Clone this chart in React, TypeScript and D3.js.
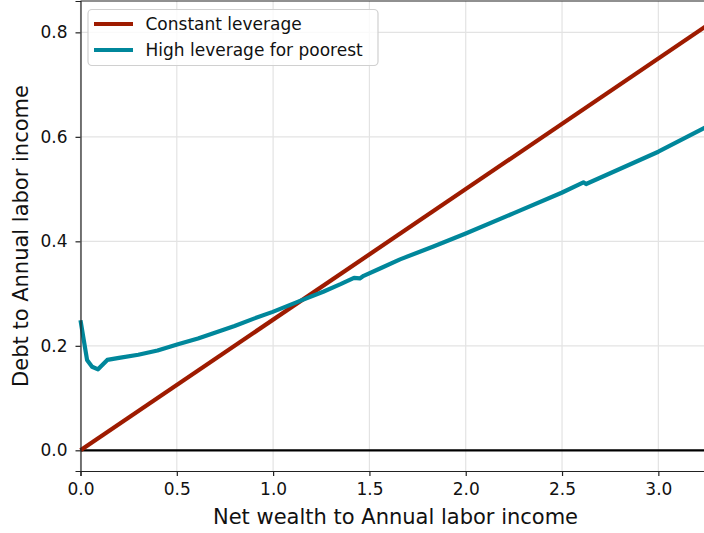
import React, { useEffect, useRef } from "react";
import * as d3 from "d3";

// Constant leverage: debt = 0.25 * net wealth
const constX = [0, 3.25];
const constY = [0, 0.8125];

// High leverage for poorest
const highX = [0, 0.034, 0.06, 0.091, 0.139, 0.2, 0.3, 0.4, 0.506, 0.61, 0.69, 0.8, 0.9, 0.998, 1.14, 1.26, 1.35, 1.42, 1.45, 1.47, 1.555, 1.659, 1.832, 2.0, 2.25, 2.498, 2.611, 2.625, 3.0, 3.25];
const highY = [0.249, 0.173, 0.16, 0.155, 0.173, 0.177, 0.183, 0.191, 0.203, 0.214, 0.224, 0.238, 0.252, 0.265, 0.286, 0.3035, 0.318, 0.330, 0.329, 0.334, 0.348, 0.3655, 0.39, 0.415, 0.454, 0.493, 0.513, 0.5097, 0.5715, 0.619];

const xTicks = [0, 0.5, 1, 1.5, 2, 2.5, 3];
const yTicks = [0, 0.2, 0.4, 0.6, 0.8];

const seriesNames = ["Constant leverage", "High leverage for poorest"];
const seriesColors = ["#9e1b00", "#00879b"];

const width = 704;
const height = 533;
const font = "DejaVu Sans";

export default function App() {
  const ref = useRef<SVGSVGElement>(null);

  const margin = { top: 1, left: 80.5, bottom: 62, right: -2.5 };
  const iwidth = width - margin.left - margin.right;
  const iheight = height - margin.top - margin.bottom;

  useEffect(() => {
    const svg = d3.select(ref.current);
    svg.selectAll("*").remove();

    const g = svg.append("g").attr("transform", `translate(${margin.left},${margin.top})`);

    const x = d3.scaleLinear().domain([0, 3.25]).range([0, iwidth]);
    const y = d3.scaleLinear().domain([-0.0396, 0.86]).range([iheight, 0]);

    // grid
    g.selectAll(".vgrid").data(xTicks).enter().append("line")
      .attr("x1", d => x(d)).attr("x2", d => x(d))
      .attr("y1", 0).attr("y2", iheight)
      .attr("stroke", "#e3e3e3").attr("stroke-width", 1.2);
    g.selectAll(".hgrid").data(yTicks).enter().append("line")
      .attr("x1", 0).attr("x2", iwidth)
      .attr("y1", d => y(d)).attr("y2", d => y(d))
      .attr("stroke", "#e3e3e3").attr("stroke-width", 1.2);

    // zero line
    g.append("line")
      .attr("x1", 0).attr("x2", iwidth)
      .attr("y1", y(0)).attr("y2", y(0))
      .attr("stroke", "#000").attr("stroke-width", 2.2);

    const line = d3.line<[number, number]>().x(d => x(d[0])).y(d => y(d[1]));
    const series: [number, number][][] = [
      constX.map((v, i) => [v, constY[i]]),
      highX.map((v, i) => [v, highY[i]]),
    ];
    series.forEach((s, i) => {
      g.append("path")
        .datum(s)
        .attr("d", line)
        .attr("fill", "none")
        .attr("stroke", seriesColors[i])
        .attr("stroke-width", 4.2)
        .attr("stroke-linejoin", "round");
    });

    // axes
    const xAxis = g.append("g")
      .attr("transform", `translate(0,${iheight})`)
      .call(d3.axisBottom(x).tickValues(xTicks).tickFormat(d3.format(".1f")).tickSize(5).tickPadding(7));
    const yAxis = g.append("g")
      .call(d3.axisLeft(y).tickValues(yTicks).tickFormat(d3.format(".1f")).tickSize(5).tickPadding(8));
    [xAxis, yAxis].forEach(a => {
      a.select(".domain").attr("stroke", "#222").attr("stroke-width", 1.2);
      a.selectAll(".tick line").attr("stroke", "#222").attr("stroke-width", 1.2);
      a.selectAll(".tick text").attr("font-family", font).attr("font-size", 17).attr("fill", "#111");
    });
    // top spine
    g.append("line").attr("x1", 0).attr("x2", iwidth).attr("y1", 0).attr("y2", 0)
      .attr("stroke", "#222").attr("stroke-width", 1.2);

    // axis labels
    svg.append("text")
      .attr("x", margin.left + iwidth / 2 + 2).attr("y", 524)
      .attr("text-anchor", "middle")
      .attr("font-family", font).attr("font-size", 21).attr("fill", "#111")
      .text("Net wealth to Annual labor income");
    svg.append("text")
      .attr("transform", `translate(27.5,${margin.top + iheight / 2}) rotate(-90)`)
      .attr("text-anchor", "middle")
      .attr("font-family", font).attr("font-size", 21).attr("fill", "#111")
      .text("Debt to Annual labor income");

    // legend
    const lg = svg.append("g");
    lg.append("rect")
      .attr("x", 88).attr("y", 9.5).attr("width", 290).attr("height", 56).attr("rx", 4)
      .attr("fill", "#fff").attr("fill-opacity", 0.8)
      .attr("stroke", "#d0d0d0").attr("stroke-width", 1.2);
    seriesNames.forEach((name, i) => {
      const yy = 24 + i * 26;
      lg.append("line")
        .attr("x1", 94).attr("x2", 133).attr("y1", yy).attr("y2", yy)
        .attr("stroke", seriesColors[i]).attr("stroke-width", 4.2);
      lg.append("text")
        .attr("x", 145.5).attr("y", yy).attr("dy", "0.35em")
        .attr("font-family", font).attr("font-size", 17).attr("fill", "#111")
        .text(name);
    });
  }, []);

  return (
    <svg
      ref={ref}
      width={width}
      height={height}
      style={{ position: "absolute", left: 0, top: 0, background: "#fff" }}
    />
  );
}
